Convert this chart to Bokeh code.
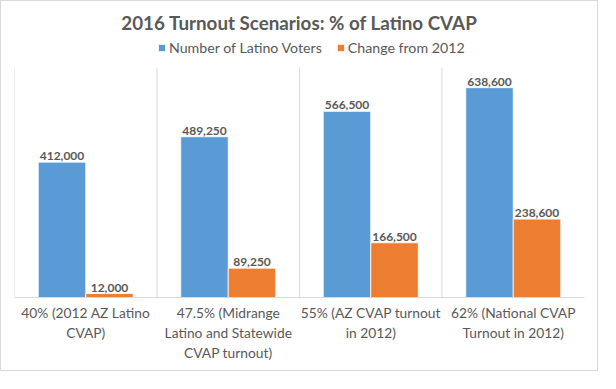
from bokeh.plotting import figure
from bokeh.models import Range1d, FixedTicker, Legend, LegendItem, ColumnDataSource
from bokeh.embed import file_html
from bokeh.resources import INLINE
from bokeh.core.properties import value

# ---- data ----
categories = [
    "40% (2012 AZ Latino\nCVAP)",
    "47.5% (Midrange\nLatino and Statewide\nCVAP turnout)",
    "55% (AZ CVAP turnout\nin 2012)",
    "62% (National CVAP\nTurnout in 2012)",
]
latino_voters = [412000, 489250, 566500, 638600]
change_from_2012 = [12000, 89250, 166500, 238600]
series_names = ["Number of Latino Voters", "Change from 2012"]
title_text = "2016 Turnout Scenarios: % of Latino CVAP"
y_axis_max = 700000

FONT = "Lato"
TEXT_COLOR = "#595959"
BLUE = "#5B9BD5"
ORANGE = "#ED7D31"
GRID = "#d9d9d9"

idx = list(range(len(categories)))
bar_w = 1 / 3
boundaries = [i - 0.5 for i in idx]

# frame geometry: value axis area is 230px tall, frame extends 30px higher for the legend
frame_h = 260
axis_h = 230

src_a = ColumnDataSource(dict(
    x=[i - bar_w / 2 for i in idx], top=latino_voters,
    label=[f"{v:,}" for v in latino_voters]))
src_b = ColumnDataSource(dict(
    x=[i + bar_w / 2 for i in idx], top=change_from_2012,
    label=[f"{v:,}" for v in change_from_2012]))

p = figure(width=598, height=371, output_backend="svg", toolbar_location=None,
           x_range=Range1d(-0.5, len(categories) - 0.5),
           y_range=Range1d(0, y_axis_max * frame_h / axis_h),
           min_border_left=13, min_border_right=15, min_border_top=36, min_border_bottom=75)
p.styles = {"border": "1px solid #d9d9d9"}
p.outline_line_color = None
p.background_fill_color = "white"
p.border_fill_color = "white"
p.xgrid.visible = False
p.ygrid.visible = False

# category separator lines spanning the value axis
p.segment(x0=boundaries, y0=[0] * len(boundaries), x1=boundaries,
          y1=[y_axis_max] * len(boundaries), line_color=GRID, line_width=1)

r1 = p.vbar(x="x", top="top", width=bar_w, source=src_a, fill_color=BLUE,
            line_color="white", line_width=0.8)
r2 = p.vbar(x="x", top="top", width=bar_w, source=src_b, fill_color=ORANGE,
            line_color="white", line_width=0.8)

for src in (src_a, src_b):
    p.text(x="x", y="top", text="label", source=src, text_align="center",
           text_baseline="bottom", y_offset=-2, text_font=value(FONT),
           text_font_size="12px", text_font_style="bold", text_color=TEXT_COLOR)

# title
p.title.text = title_text
p.title.align = "center"
p.title.text_font = FONT
p.title.text_font_size = "18.8px"
p.title.text_font_style = "bold"
p.title.text_color = TEXT_COLOR
p.title.standoff = 8

# legend
legend = Legend(items=[LegendItem(label=series_names[0], renderers=[r1]),
                       LegendItem(label=series_names[1], renderers=[r2])],
                orientation="horizontal", location=(143, 241))
legend.label_text_font = FONT
legend.label_text_font_size = "14.2px"
legend.label_text_color = TEXT_COLOR
legend.glyph_width = 9
legend.glyph_height = 9
legend.label_standoff = 3
legend.spacing = 14
legend.border_line_color = None
legend.background_fill_alpha = 0
legend.padding = 0
legend.margin = 0
p.add_layout(legend, "center")

# axes
p.yaxis.visible = False
p.xaxis.ticker = FixedTicker(ticks=idx)
p.xaxis.major_label_overrides = {i: c for i, c in zip(idx, categories)}
p.xaxis.major_tick_line_color = None
p.xaxis.minor_tick_line_color = None
p.xaxis.axis_line_color = GRID
p.xaxis.major_label_text_font = FONT
p.xaxis.major_label_text_font_size = "13.8px"
p.xaxis.major_label_text_color = TEXT_COLOR
p.xaxis.major_label_standoff = 0

open("out.html", "w").write(file_html(p, INLINE))
